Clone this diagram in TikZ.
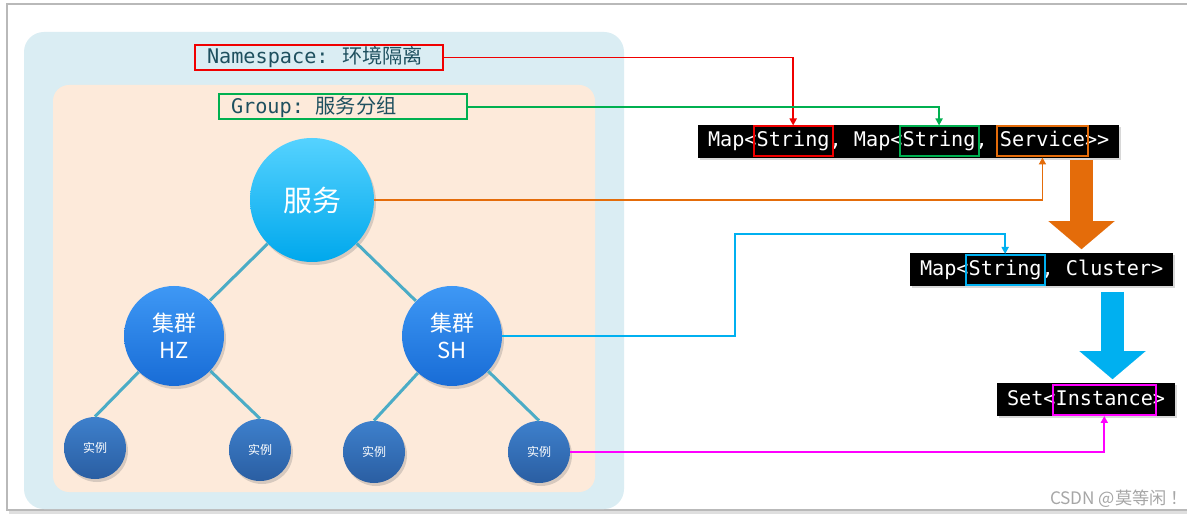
\documentclass[tikz,border=0pt]{standalone}
\usepackage{fontspec}
\setmonofont{DejaVu Sans Mono}
\newfontfamily\cjk{Noto Sans CJK SC}
\usepackage{tikz}
\usetikzlibrary{arrows.meta,positioning,fit,backgrounds,shadows}
\definecolor{panelblue}{RGB}{218,237,243}
\definecolor{panelpeach}{RGB}{253,234,218}
\definecolor{labelink}{RGB}{30,80,95}
\definecolor{nsred}{RGB}{240,0,0}
\definecolor{grpgreen}{RGB}{0,176,80}
\definecolor{svcorange}{RGB}{228,108,10}
\definecolor{clublue}{RGB}{0,176,240}
\definecolor{insmagenta}{RGB}{255,0,255}
\definecolor{treeline}{RGB}{75,172,198}
\tikzset{
  panel/.style={rounded corners=10pt,draw=none},
  keylabel/.style={draw,line width=1pt,text=labelink,font=\ttfamily\fontsize{10.1}{12}\selectfont,
    text width=112pt,inner xsep=6pt,inner ysep=0pt,minimum height=12.5pt,align=left},
  codepart/.style={anchor=base west,inner sep=0pt,outer sep=0pt,text=white,
    font=\ttfamily\fontsize{10.1}{12}\selectfont,text height=8pt,text depth=2.5pt},
  codebox/.style={fill=black,inner xsep=5pt,inner ysep=3pt,
    drop shadow={opacity=0.3,shadow xshift=1pt,shadow yshift=-1pt}},
  keyframe/.style={draw,line width=1pt,inner xsep=1.5pt,inner ysep=2.25pt},
  link/.style={line width=0.9pt,-{Triangle[length=3.5pt,width=3.5pt]}},
  bigarrow/.style={line width=11.5pt,shorten >=2pt,
    -{Triangle[length=14pt,width=33pt,line width=0.01pt]}},
  treeedge/.style={draw=treeline,line width=1.5pt},
  roundshade/.style={circle,text=white,align=center,
    drop shadow={opacity=0.3,shadow xshift=1pt,shadow yshift=-1.5pt}},
  svcnode/.style={roundshade,minimum size=62pt,top color={rgb,255:red,85;green,210;blue,255},
    bottom color={rgb,255:red,0;green,168;blue,236},font=\cjk\fontsize{14.5}{16}\selectfont},
  clunode/.style={roundshade,minimum size=50pt,top color={rgb,255:red,62;green,152;blue,245},
    bottom color={rgb,255:red,24;green,108;blue,214},font=\cjk\fontsize{11}{13.5}\selectfont},
  insnode/.style={roundshade,minimum size=31pt,top color={rgb,255:red,62;green,128;blue,204},
    bottom color={rgb,255:red,42;green,94;blue,162},font=\cjk\fontsize{6}{7}\selectfont}
}

\begin{document}
\begin{tikzpicture}[x=0.5pt,y=-0.5pt]
  \useasboundingbox (0,0) rectangle (1187,517);
  \begin{scope}[on background layer]
    \fill[white] (0,0) rectangle (1187,517);
    \draw[gray!25,line width=1.5pt] (9,512) -- (1187,512);
    \draw[gray!55,line width=1pt] (1187,4) -- (7,4) -- (7,510) -- (1187,510);
    \fill[panel,panelblue] (24,32) rectangle (624,509);
    \fill[panel,panelpeach,rounded corners=8pt] (53,85) rectangle (595,492);
  \end{scope}

  \node[keylabel,draw=nsred] (ns) at (319,57.5) {Namespace:\ \ {\cjk 环境隔离}};
  \node[keylabel,draw=grpgreen] (grp) at (343,107) {Group:\ \hspace{2.5pt}{\cjk 服务分组}};

  \node[svcnode] (svc) at (312,200) {服务};
  \node[clunode] (hz) at (174,336) {集群\\HZ};
  \node[clunode] (sh) at (452,336) {集群\\SH};
  \node[insnode] (i1) at (95,448) {实例};
  \node[insnode] (i2) at (260,450) {实例};
  \node[insnode] (i3) at (374,452) {实例};
  \node[insnode] (i4) at (539,452) {实例};
  \draw[treeedge] (svc) -- (hz);
  \draw[treeedge] (svc) -- (sh);
  \draw[treeedge] (hz) -- (i1.north);
  \draw[treeedge] (hz) -- (i2.north);
  \draw[treeedge] (sh) -- (i3.north);
  \draw[treeedge] (sh) -- (i4.north);

  \node[codepart] (m1) at (708,147) {Map<};
  \node[codepart,right=0pt of m1] (s1) {String};
  \node[codepart,right=0pt of s1] (m2) {,\ Map<};
  \node[codepart,right=0pt of m2] (s2) {String};
  \node[codepart,right=0pt of s2] (m3) {,\ \mbox{}};
  \node[codepart,right=0pt of m3] (s3) {Service};
  \node[codepart,right=0pt of s3] (m4) {>>};

  \node[codepart] (c1) at (920,275.5) {Map<};
  \node[codepart,right=0pt of c1] (cs) {String};
  \node[codepart,right=0pt of cs] (c2) {,\ Cluster>};

  \node[codepart] (t1) at (1007,405.5) {Set<};
  \node[codepart,right=0pt of t1] (ti) {Instance};
  \node[codepart,right=0pt of ti] (t2) {>};

  \begin{scope}[on background layer]
    \node[codebox,fit=(m1)(m4)] (mapbox) {};
    \node[codebox,fit=(c1)(c2)] (clubox) {};
    \node[codebox,fit=(t1)(t2)] (setbox) {};
  \end{scope}

  \node[keyframe,draw=nsred,fit=(s1)] (s1f) {};
  \node[keyframe,draw=grpgreen,fit=(s2)] (s2f) {};
  \node[keyframe,draw=svcorange,fit=(s3)] (s3f) {};
  \node[keyframe,draw=clublue,fit=(cs)] (csf) {};
  \node[keyframe,draw=insmagenta,fit=(ti)] (tif) {};

  \draw[link,nsred] (ns.east) -| (s1f.north);
  \draw[link,grpgreen] (grp.east) -| (s2f.north);
  \draw[link,svcorange] (svc.east) -| (s3f.south);
  \coordinate (jog) at (735,234);
  \draw[link,clublue] (sh.east) -- (sh.east -| jog) -- (jog) -| (csf.north);
  \draw[link,insmagenta] (i4.east) -| (tif.south);

  \coordinate (otop) at (1081.5,160);
  \coordinate (btop) at (1112.5,292);
  \draw[bigarrow,svcorange] (otop) -- (otop |- clubox.north);
  \draw[bigarrow,clublue] (btop) -- (btop |- setbox.north);

  \node[anchor=base west,text=gray!70,font=\cjk\fontsize{8.6}{10}\selectfont] (mark) at (1043,504) {CSDN @莫等闲\hspace{2pt}！};
\end{tikzpicture}
\end{document}
